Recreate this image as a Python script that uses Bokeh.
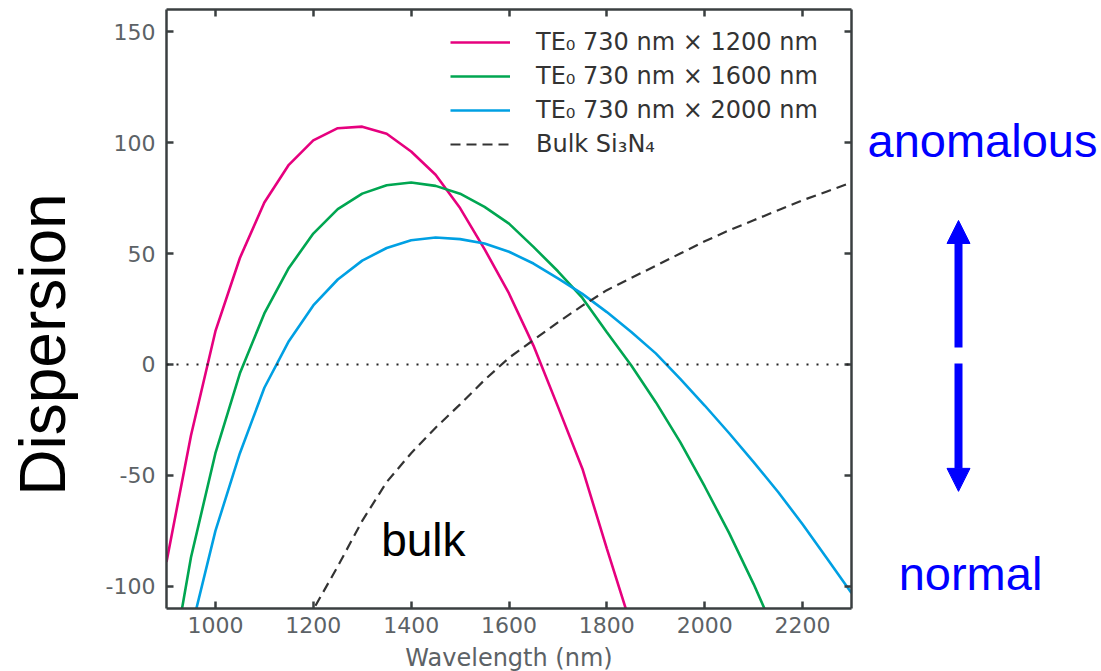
from bokeh.plotting import figure
from bokeh.layouts import row, column
from bokeh.models import (Legend, LegendItem, LinearAxis, Span, Label, Arrow,
                          NormalHead, Range1d, FixedTicker, CustomJSTickFormatter)
from bokeh.embed import file_html
from bokeh.resources import INLINE

nan = float("nan")

wavelength = [900, 950, 1000, 1050, 1100, 1150, 1200, 1250, 1300, 1350,
              1400, 1450, 1500, 1550, 1600, 1650, 1700, 1750, 1800, 1850,
              1900, 1950, 2000, 2050, 2100, 2150, 2200, 2250, 2300]

te0_1200 = [-89, -32, 15, 48, 73, 90, 101, 106.5, 107.2, 104,
            96, 85.5, 70.5, 52, 32, 8.5, -19, -47, -83, -118,
            nan, nan, nan, nan, nan, nan, nan, nan, nan]

te0_1600 = [-150, -87, -40, -4, 23, 43.5, 59, 70, 77, 80.8,
            82, 80.5, 77, 71, 63.5, 53, 42, 30, 14.5, -0.5,
            -17, -35, -55, -76, -99, -124, nan, nan, nan]

te0_2000 = [nan, -120, -75, -40, -10.5, 10.5, 26.6, 38.3, 46.8, 52.5,
            56, 57.2, 56.5, 54.5, 50.8, 45.5, 38.8, 31.8, 23.6, 14.6,
            5, -6.5, -18.5, -31, -44, -57.5, -72, -87.5, -103]

bulk_si3n4 = [nan, nan, nan, nan, nan, -135, -110.5, -91, -70.5, -53,
              -40, -28.5, -18, -7, 3, 11, 19, 26.5, 33.5, 39,
              44.5, 50, 55.5, 60.5, 65, 69.5, 74, 78, 82]

series_labels = ["TE\u2080 730 nm \u00d7 1200 nm",
                 "TE\u2080 730 nm \u00d7 1600 nm",
                 "TE\u2080 730 nm \u00d7 2000 nm",
                 "Bulk Si\u2083N\u2084"]
series_colors = ["#e6007e", "#00a651", "#00a0e3", "#333333"]

x_ticks = [1000, 1200, 1400, 1600, 1800, 2000, 2200]
y_ticks = [-100, -50, 0, 50, 100, 150]
y_tick_text = {-100: "-100", -50: "-50", 0: "0", 50: "50", 100: "100", 150: "150"}

AX = "#3a3f40"
TXT = "#5c6266"
TICK_FONT = "DejaVu Sans"
BIG_FONT = "Liberation Sans"
BLUE = "#0000ff"

x_range = Range1d(900, 2300)
y_range = Range1d(-110, 160)

TOP_H = 642
MAIN_W = 858
p = figure(width=MAIN_W, height=TOP_H,
           x_range=x_range, y_range=y_range,
           output_backend="svg", toolbar_location=None,
           min_border_left=166, min_border_right=MAIN_W - 851,
           min_border_top=9, min_border_bottom=TOP_H - 608)
p.background_fill_color = "white"
p.border_fill_color = "white"
p.outline_line_color = None
p.grid.visible = False

blank = CustomJSTickFormatter(code="return ''")

def style_axis(ax, ticks, show_labels):
    ax.ticker = FixedTicker(ticks=ticks)
    ax.axis_line_color = AX
    ax.axis_line_width = 2.5
    ax.major_tick_line_color = AX
    ax.major_tick_line_width = 2.5
    ax.major_tick_in = 7
    ax.major_tick_out = 0
    ax.minor_tick_line_color = None
    if show_labels:
        ax.major_label_text_font = TICK_FONT
        ax.major_label_text_font_size = "22px"
        ax.major_label_text_color = TXT
    else:
        ax.formatter = blank
        ax.major_label_text_font_size = "1px"
        ax.major_label_standoff = 0

style_axis(p.xaxis[0], x_ticks, True)
style_axis(p.yaxis[0], y_ticks, True)
p.yaxis[0].major_label_overrides = y_tick_text
p.xaxis[0].major_label_standoff = 8
p.yaxis[0].major_label_standoff = 11
p.yaxis[0].axis_label = "Dispersion" + "\u00a0" * 4
p.yaxis[0].axis_label_text_font = BIG_FONT
p.yaxis[0].axis_label_text_font_size = "64px"
p.yaxis[0].axis_label_text_font_style = "normal"
p.yaxis[0].axis_label_text_color = "black"
p.yaxis[0].axis_label_standoff = 24

top_ax = LinearAxis()
style_axis(top_ax, x_ticks, False)
p.add_layout(top_ax, "above")
right_ax = LinearAxis()
style_axis(right_ax, y_ticks, False)
p.add_layout(right_ax, "right")

p.add_layout(Span(location=0, dimension="width", line_color="#222222",
                  line_width=2, line_dash="2 8"))

renderers = []
for vals, col in zip([te0_1200, te0_1600, te0_2000], series_colors[:3]):
    renderers.append(p.line(wavelength, vals, line_color=col, line_width=2.6))
renderers.append(p.line(wavelength, bulk_si3n4, line_color=series_colors[3],
                        line_width=2.2, line_dash="10 6"))

legend = Legend(items=[LegendItem(label=l, renderers=[r])
                       for l, r in zip(series_labels, renderers)],
                location=(284, 447), orientation="vertical",
                label_text_font=TICK_FONT, label_text_font_size="24px",
                label_text_color="#333333",
                glyph_width=60, glyph_height=34, label_height=34,
                spacing=0, padding=0, margin=0, label_standoff=26,
                border_line_color=None, background_fill_alpha=0)
p.add_layout(legend)

p.add_layout(Label(x=1425, y=-79, text="bulk", text_font=BIG_FONT,
                   text_font_size="46px", text_color="black",
                   text_align="center", text_baseline="middle"))

# side panel (shares the y range; x in pixels from the panel's left edge)
SIDE_W = 1101 - MAIN_W
q = figure(width=SIDE_W, height=TOP_H,
           x_range=Range1d(0, SIDE_W), y_range=y_range,
           output_backend="svg", toolbar_location=None,
           min_border_left=0, min_border_right=0,
           min_border_top=9, min_border_bottom=TOP_H - 608)
q.axis.visible = False
q.grid.visible = False
q.outline_line_color = None
q.background_fill_color = "white"
q.border_fill_color = "white"

x0 = MAIN_W
q.add_layout(Label(x=982 - x0, y=101, text="anomalous", text_font=BIG_FONT,
                   text_font_size="47px", text_color=BLUE,
                   text_align="center", text_baseline="middle"))
q.add_layout(Label(x=970 - x0, y=-94, text="normal", text_font=BIG_FONT,
                   text_font_size="47px", text_color=BLUE,
                   text_align="center", text_baseline="middle"))
q.add_layout(Arrow(end=NormalHead(size=23, fill_color=BLUE,
                                  line_color=BLUE, line_width=1),
                   x_start=958 - x0, y_start=7.7, x_end=958 - x0, y_end=64.9,
                   line_color=BLUE, line_width=8))
q.add_layout(Arrow(end=NormalHead(size=23, fill_color=BLUE,
                                  line_color=BLUE, line_width=1),
                   x_start=958 - x0, y_start=0.4, x_end=958 - x0, y_end=-57.2,
                   line_color=BLUE, line_width=8))

# bottom strip carrying the x-axis title (shares the x range)
BOT_H = 671 - TOP_H
r = figure(width=1101, height=BOT_H,
           x_range=x_range, y_range=Range1d(0, BOT_H),
           output_backend="svg", toolbar_location=None,
           min_border_left=166, min_border_right=1101 - 851,
           min_border_top=0, min_border_bottom=0)
r.axis.visible = False
r.grid.visible = False
r.outline_line_color = None
r.background_fill_color = "white"
r.border_fill_color = "white"
r.add_layout(Label(x=1600, y=671 - 657, text="Wavelength (nm)",
                   text_font=TICK_FONT, text_font_size="24px",
                   text_color=TXT, text_align="center",
                   text_baseline="middle"))

layout = column(row(p, q), r)
open("out.html", "w").write(file_html(layout, INLINE))
